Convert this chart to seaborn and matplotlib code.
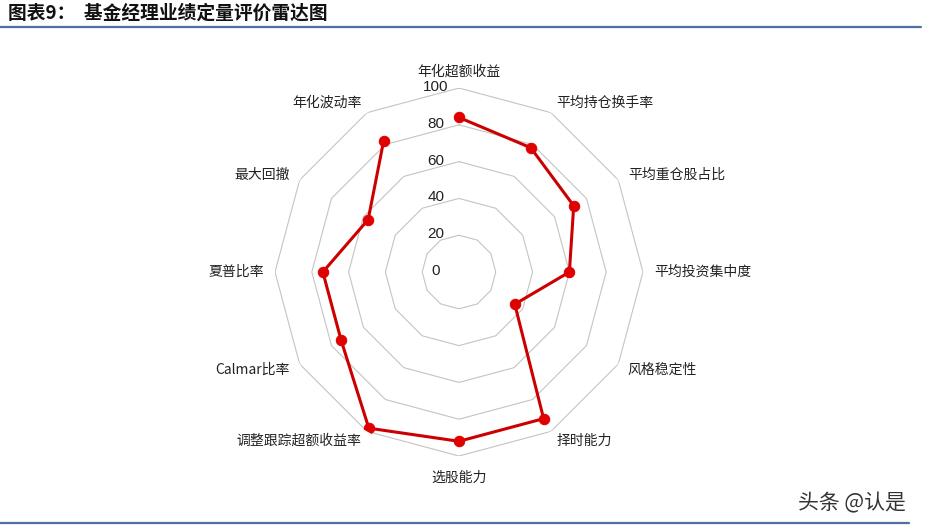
import numpy as np
import pandas as pd
import seaborn as sns
import matplotlib.pyplot as plt
from matplotlib.transforms import offset_copy
from matplotlib.lines import Line2D

# radar axes, clockwise from the top
labels = ['年化超额收益', '平均持仓换手率', '平均重仓股占比', '平均投资集中度',
          '风格稳定性', '择时能力', '选股能力', '调整跟踪超额收益率',
          'Calmar比率', '夏普比率', '最大回撤', '年化波动率']
scores = [84, 78, 72, 60, 35, 92, 92, 98, 74, 74, 57, 82]
rings = [20, 40, 60, 80, 100]
ring_labels = ['0', '20', '40', '60', '80', '100']

title = '图表9：  基金经理业绩定量评价雷达图'
watermark = '头条 @认是'

sns.set_theme(style='white')
plt.rcParams['font.family'] = ['Noto Sans CJK SC', 'DejaVu Sans']
plt.rcParams['axes.unicode_minus'] = False

fig = plt.figure(figsize=(9.28, 5.30), dpi=100)
fig.patch.set_facecolor('white')

ax = fig.add_axes([0.2963, 0.1396, 0.3966, 0.6943], projection='polar')
ax.set_theta_zero_location('N')
ax.set_theta_direction(-1)
ax.set_ylim(0, 100)
ax.grid(False)
ax.spines['polar'].set_visible(False)
ax.set_xticks([])
ax.set_yticks([])
ax.set_facecolor('none')

n = len(labels)
theta = np.arange(n) * 2 * np.pi / n
theta_c = np.append(theta, theta[0])

# polygon grid rings
for r in rings:
    ax.plot(theta_c, [r] * (n + 1), color='#c4c4c4', lw=0.8, zorder=1)

# data series
df = pd.DataFrame({'theta': theta_c, 'score': scores + [scores[0]]})
sns.lineplot(data=df, x='theta', y='score', sort=False, ax=ax,
             color='#cc0000', lw=2.2, marker='o', markersize=7.5,
             markeredgecolor='#e00000', markerfacecolor='#e00000', zorder=3)
ax.set_xlabel('')
ax.set_ylabel('')

# value labels left of the vertical axis
trans = offset_copy(ax.transData, fig=fig, x=-23, y=1, units='dots')
for v, s in zip([0] + rings, ring_labels):
    ax.text(0, v, s, transform=trans, ha='center', va='center',
            fontsize=11, color='#222222', family=['Liberation Sans', 'DejaVu Sans'])

# category labels
for t, lab in zip(theta, labels):
    s = np.sin(t)
    c = np.cos(t)
    if abs(s) < 0.1:
        ha = 'center'
    elif s > 0:
        ha = 'left'
    else:
        ha = 'right'
    if abs(c) > 0.99:
        va = 'bottom' if c > 0 else 'top'
        r = 105 if c > 0 else 108
    else:
        va = 'center'
        r = 106
    ax.text(t, r, lab, ha=ha, va=va, fontsize=10, color='#222222')

# header and footer
fig.text(0.009, 0.975, title, ha='left', va='center', fontsize=13.5,
         fontweight='heavy', color='#111111')
fig.add_artist(Line2D([0.0, 0.992], [0.949, 0.949], color='#4f71a0', lw=1.6))
fig.add_artist(Line2D([0.0, 0.98], [0.013, 0.013], color='#4f71a0', lw=1.6))
fig.text(0.918, 0.051, watermark, ha='center', va='center', fontsize=15,
         color='#333333')

fig.savefig('out.png', dpi=100)
